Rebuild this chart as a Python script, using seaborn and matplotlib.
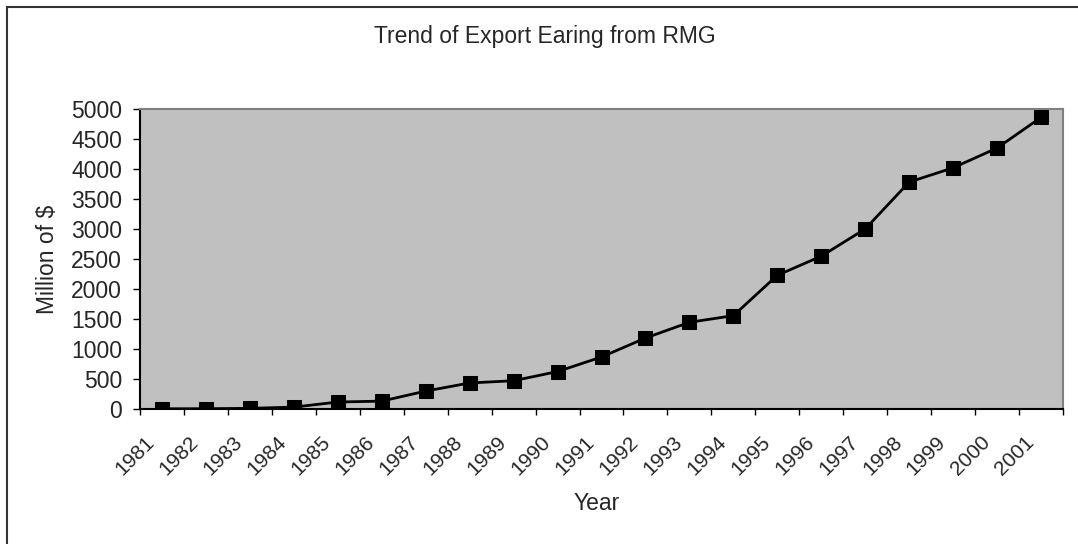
import matplotlib
matplotlib.use("Agg")
import matplotlib.pyplot as plt
import matplotlib.transforms as mtransforms
from matplotlib.patches import Rectangle
import numpy as np
import pandas as pd
import seaborn as sns

years = ["1981", "1982", "1983", "1984", "1985", "1986", "1987", "1988", "1989", "1990",
         "1991", "1992", "1993", "1994", "1995", "1996", "1997", "1998", "1999", "2000", "2001"]
earnings = [3.5, 5, 10.9, 31.6, 116.2, 131.5, 298.7, 433.9, 471.1, 624.2,
            866.8, 1182.6, 1445.0, 1555.8, 2228.4, 2547.1, 3001.3, 3781.9, 4020.0, 4349.4, 4859.8]
yticks = list(range(0, 5001, 500))

title = "Trend of Export Earing from RMG"
xlabel = "Year"
ylabel = "Million of $"

sns.set_style("white")
plt.rcParams["font.family"] = ["Liberation Sans", "DejaVu Sans"]

W, H = 1078, 544
fig = plt.figure(figsize=(W / 100, H / 100), dpi=100)
ax = fig.add_axes([140 / W, 1 - 409 / H, 923 / W, 300 / H])
ax.set_facecolor("#C0C0C0")

df = pd.DataFrame({"Year": years, "Value": earnings})
sns.lineplot(data=df, x="Year", y="Value", ax=ax, color="black", linewidth=2,
             marker="s", markersize=10, markeredgecolor="black", sort=False)

ax.set_xlim(-0.5, len(years) - 0.5)
ax.set_ylim(0, 5000)
ax.set_yticks(yticks)
ax.set_yticklabels([str(v) for v in yticks], fontsize=16.5)

ax.set_xticks(range(len(years)))
ax.set_xticklabels(years, fontsize=15, rotation=45, ha="right", va="top",
                   rotation_mode="anchor")
ax.set_xticks(np.arange(-0.5, len(years), 1.0), minor=True)
ax.tick_params(axis="x", which="major", length=0, pad=17, bottom=True)
ax.tick_params(axis="x", which="minor", length=4.5, width=1, color="black",
               direction="out", bottom=True)
ax.tick_params(axis="y", which="major", length=5, width=1, color="black",
               direction="out", pad=8, left=True)
offset = mtransforms.ScaledTranslation(-0.17, 0, fig.dpi_scale_trans)
for lab in ax.get_xticklabels():
    lab.set_transform(lab.get_transform() + offset)

for side in ["left", "bottom"]:
    ax.spines[side].set_color("black")
    ax.spines[side].set_linewidth(1.5)
for side in ["top", "right"]:
    ax.spines[side].set_color("#808080")
    ax.spines[side].set_linewidth(1.5)
    ax.spines[side].set_visible(True)

ax.set_xlabel(xlabel, fontsize=16.5)
ax.set_ylabel(ylabel, fontsize=16.5)
ax.xaxis.set_label_coords((597 - 140) / 923, (409 - 504) / 300)
ax.xaxis.label.set_va("center")
ax.yaxis.set_label_coords((48 - 140) / 923, 0.5)
ax.yaxis.label.set_va("center")

fig.text(545 / W, 1 - 36 / H, title, ha="center", va="center", fontsize=16.5)

fig.patches.append(Rectangle((7 / W, -0.1), 1.2, 1 - 7 / H + 0.1,
                             transform=fig.transFigure, fill=False,
                             edgecolor="#333333", linewidth=1.5, zorder=0))

fig.savefig("out.png", dpi=100, facecolor="white")
